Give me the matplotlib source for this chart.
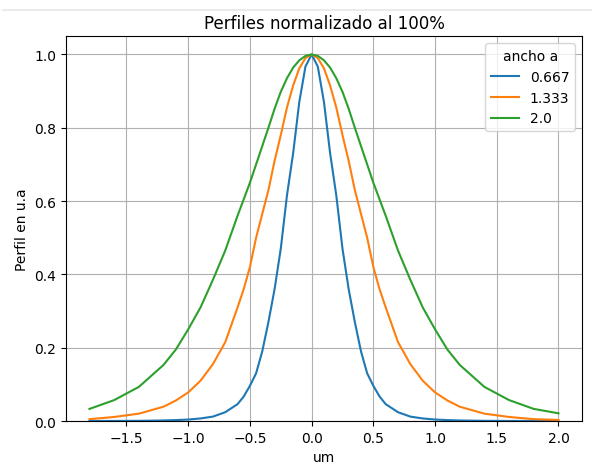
import matplotlib
matplotlib.use("Agg")
import matplotlib.pyplot as plt
from matplotlib.lines import Line2D

# posiciones (um)
x = [-1.8, -1.6, -1.4, -1.2, -1.1, -1.0, -0.9, -0.8, -0.7, -0.6, -0.55,
     -0.5, -0.45, -0.4, -0.35, -0.3, -0.25, -0.2, -0.15, -0.1, -0.05, 0.0,
     0.05, 0.1, 0.15, 0.2, 0.25, 0.3, 0.35, 0.4, 0.45, 0.5,
     0.55, 0.6, 0.7, 0.8, 0.9, 1.0, 1.1, 1.2, 1.4, 1.6, 1.8, 2.0]

perfil_0667 = [0.0, 0.0002, 0.0005, 0.0015, 0.0025, 0.004, 0.007, 0.012, 0.024, 0.046, 0.067,
               0.096, 0.13, 0.19, 0.27, 0.36, 0.47, 0.615, 0.73, 0.87, 0.967, 1.0,
               0.967, 0.87, 0.73, 0.615, 0.47, 0.36, 0.27, 0.19, 0.13, 0.096,
               0.067, 0.046, 0.024, 0.012, 0.007, 0.004, 0.0025, 0.0015, 0.0005, 0.0002, 0.0, 0.0]

perfil_1333 = [0.005, 0.011, 0.02, 0.039, 0.056, 0.078, 0.11, 0.155, 0.215, 0.31, 0.36,
               0.42, 0.5, 0.565, 0.63, 0.71, 0.78, 0.855, 0.915, 0.962, 0.99, 1.0,
               0.99, 0.962, 0.915, 0.855, 0.78, 0.71, 0.63, 0.565, 0.5, 0.42,
               0.36, 0.31, 0.215, 0.155, 0.11, 0.078, 0.056, 0.039, 0.02, 0.011, 0.005, 0.003]

perfil_2000 = [0.033, 0.057, 0.093, 0.153, 0.195, 0.25, 0.31, 0.385, 0.465, 0.56, 0.605,
               0.65, 0.70, 0.75, 0.80, 0.852, 0.898, 0.935, 0.964, 0.984, 0.996, 1.0,
               0.996, 0.984, 0.964, 0.935, 0.898, 0.852, 0.80, 0.75, 0.70, 0.65,
               0.605, 0.56, 0.465, 0.385, 0.31, 0.25, 0.195, 0.153, 0.093, 0.057, 0.033, 0.021]

anchos = ["0.667", "1.333", "2.0"]

fig = plt.figure(figsize=(5.92, 4.64), dpi=100)
ax = fig.add_axes([0.1115, 0.0905, 0.8715, 0.8295])

for y, lab in zip([perfil_0667, perfil_1333, perfil_2000], anchos):
    ax.plot(x, y, label=lab, lw=1.5)

ax.set_ylim(0, 1.05)
ax.grid(True)
ax.set_title("Perfiles normalizado al 100%")
ax.set_xlabel("um")
ax.set_ylabel("Perfil en u.a")
ax.legend(title="ancho a", loc="upper right")

# linea gris de la captura
fig.add_artist(Line2D([0.005, 1.0], [1 - 11 / 464, 1 - 11 / 464],
                      color="#e6e6e6", lw=1.2, transform=fig.transFigure))

fig.savefig("out.png", dpi=100)
